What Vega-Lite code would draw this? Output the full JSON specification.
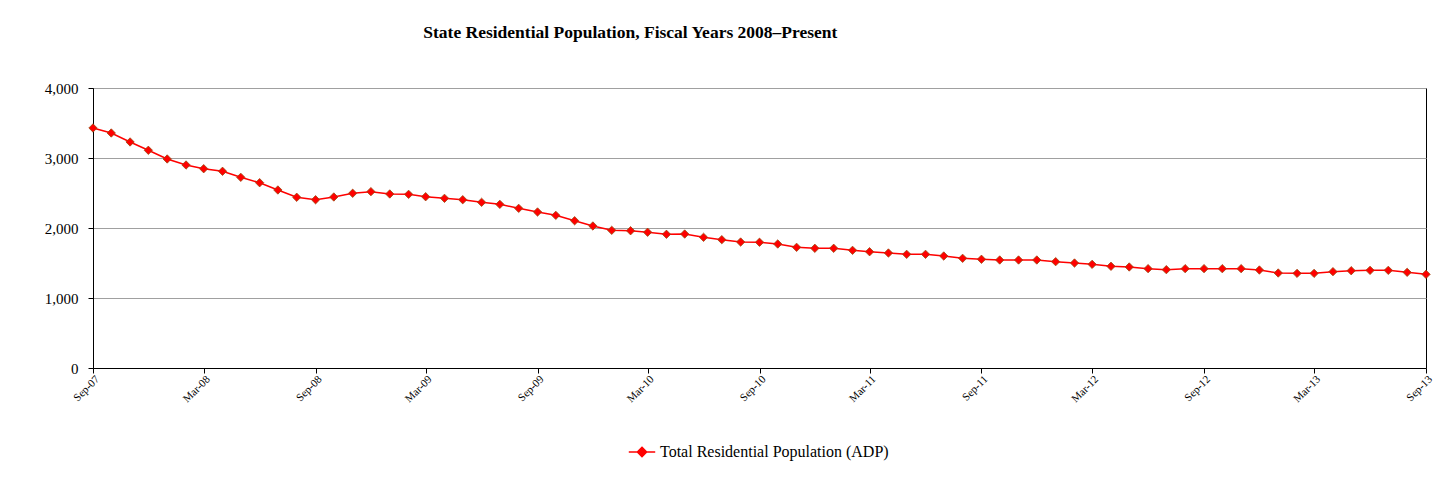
{
  "$schema": "https://vega.github.io/schema/vega-lite/v6.json",
  "width": 1333,
  "height": 280,
  "padding": {"left": 93, "top": 88, "right": 25, "bottom": 116},
  "autosize": {"type": "none"},
  "background": "white",
  "title": {
    "text": "State Residential Population, Fiscal Years 2008–Present",
    "font": "Liberation Serif",
    "fontSize": 17.5,
    "fontWeight": "bold",
    "color": "black",
    "anchor": "start",
    "dx": 379,
    "offset": 40
  },
  "config": {
    "view": {"stroke": "black", "strokeWidth": 1},
    "font": "Liberation Serif"
  },
  "data": {
    "values": [
      {"month": "2007-09-01", "adp": 3429},
      {"month": "2007-10-01", "adp": 3357},
      {"month": "2007-11-01", "adp": 3229},
      {"month": "2007-12-01", "adp": 3110},
      {"month": "2008-01-01", "adp": 2986},
      {"month": "2008-02-01", "adp": 2900},
      {"month": "2008-03-01", "adp": 2847},
      {"month": "2008-04-01", "adp": 2810},
      {"month": "2008-05-01", "adp": 2724},
      {"month": "2008-06-01", "adp": 2647},
      {"month": "2008-07-01", "adp": 2543},
      {"month": "2008-08-01", "adp": 2439},
      {"month": "2008-09-01", "adp": 2404},
      {"month": "2008-10-01", "adp": 2443},
      {"month": "2008-11-01", "adp": 2496},
      {"month": "2008-12-01", "adp": 2519},
      {"month": "2009-01-01", "adp": 2486},
      {"month": "2009-02-01", "adp": 2481},
      {"month": "2009-03-01", "adp": 2447},
      {"month": "2009-04-01", "adp": 2424},
      {"month": "2009-05-01", "adp": 2404},
      {"month": "2009-06-01", "adp": 2367},
      {"month": "2009-07-01", "adp": 2338},
      {"month": "2009-08-01", "adp": 2281},
      {"month": "2009-09-01", "adp": 2229},
      {"month": "2009-10-01", "adp": 2181},
      {"month": "2009-11-01", "adp": 2104},
      {"month": "2009-12-01", "adp": 2029},
      {"month": "2010-01-01", "adp": 1967},
      {"month": "2010-02-01", "adp": 1961},
      {"month": "2010-03-01", "adp": 1939},
      {"month": "2010-04-01", "adp": 1910},
      {"month": "2010-05-01", "adp": 1914},
      {"month": "2010-06-01", "adp": 1867},
      {"month": "2010-07-01", "adp": 1833},
      {"month": "2010-08-01", "adp": 1800},
      {"month": "2010-09-01", "adp": 1796},
      {"month": "2010-10-01", "adp": 1771},
      {"month": "2010-11-01", "adp": 1724},
      {"month": "2010-12-01", "adp": 1710},
      {"month": "2011-01-01", "adp": 1710},
      {"month": "2011-02-01", "adp": 1681},
      {"month": "2011-03-01", "adp": 1661},
      {"month": "2011-04-01", "adp": 1643},
      {"month": "2011-05-01", "adp": 1624},
      {"month": "2011-06-01", "adp": 1624},
      {"month": "2011-07-01", "adp": 1600},
      {"month": "2011-08-01", "adp": 1567},
      {"month": "2011-09-01", "adp": 1553},
      {"month": "2011-10-01", "adp": 1543},
      {"month": "2011-11-01", "adp": 1543},
      {"month": "2011-12-01", "adp": 1543},
      {"month": "2012-01-01", "adp": 1519},
      {"month": "2012-02-01", "adp": 1500},
      {"month": "2012-03-01", "adp": 1481},
      {"month": "2012-04-01", "adp": 1453},
      {"month": "2012-05-01", "adp": 1443},
      {"month": "2012-06-01", "adp": 1419},
      {"month": "2012-07-01", "adp": 1405},
      {"month": "2012-08-01", "adp": 1419},
      {"month": "2012-09-01", "adp": 1419},
      {"month": "2012-10-01", "adp": 1419},
      {"month": "2012-11-01", "adp": 1419},
      {"month": "2012-12-01", "adp": 1400},
      {"month": "2013-01-01", "adp": 1357},
      {"month": "2013-02-01", "adp": 1352},
      {"month": "2013-03-01", "adp": 1352},
      {"month": "2013-04-01", "adp": 1376},
      {"month": "2013-05-01", "adp": 1390},
      {"month": "2013-06-01", "adp": 1395},
      {"month": "2013-07-01", "adp": 1395},
      {"month": "2013-08-01", "adp": 1367},
      {"month": "2013-09-01", "adp": 1338}
    ]
  },
  "encoding": {
    "x": {
      "field": "month",
      "type": "temporal",
      "scale": {"type": "utc", "domain": ["2007-09-01", "2013-09-01"], "nice": false},
      "axis": {
        "title": null,
        "labelExpr": "utcFormat(datum.value, '%b-%y')",
        "values": ["2007-09-01", "2008-03-01", "2008-09-01", "2009-03-01", "2009-09-01", "2010-03-01", "2010-09-01", "2011-03-01", "2011-09-01", "2012-03-01", "2012-09-01", "2013-03-01", "2013-09-01"],
        "grid": false,
        "labelAngle": -45,
        "labelAlign": "right",
        "labelBaseline": "top",
        "labelFont": "Liberation Serif",
        "labelFontSize": 11,
        "labelColor": "black",
        "labelPadding": 0,
        "domainColor": "black",
        "tickColor": "black",
        "tickSize": 5,
        "labelFlush": false,
        "labelOverlap": false
      }
    },
    "y": {
      "field": "adp",
      "type": "quantitative",
      "scale": {"domain": [0, 4000], "nice": false},
      "axis": {
        "title": null,
        "values": [0, 1000, 2000, 3000, 4000],
        "format": ",d",
        "labelFont": "Liberation Serif",
        "labelFontSize": 15,
        "labelColor": "black",
        "labelPadding": 10,
        "domainColor": "black",
        "tickColor": "black",
        "tickSize": 5,
        "gridColor": "#a0a0a0",
        "gridWidth": 1
      }
    },
    "color": {
      "datum": "Total Residential Population (ADP)",
      "type": "nominal",
      "scale": {"range": ["#ff0000"]},
      "legend": {
        "title": null,
        "orient": "none",
        "legendX": 535,
        "legendY": 350,
        "labelFont": "Liberation Serif",
        "labelFontSize": 16,
        "labelColor": "black",
        "labelLimit": 0,
        "symbolType": "M-1,0L1,0M0,-0.35L0.35,0L0,0.35L-0.35,0Z",
        "symbolSize": 700,
        "symbolStrokeWidth": 1.5,
        "symbolFillColor": "#ff0000",
        "symbolStrokeColor": "#ff0000",
        "labelOffset": 4
      }
    }
  },
  "layer": [
    {
      "mark": {"type": "line", "color": "#ff0000", "strokeWidth": 1.5}
    },
    {
      "mark": {"type": "point", "shape": "diamond", "filled": true, "fill": "#ff0000", "stroke": "#9a4a10", "strokeWidth": 0.8, "size": 70, "opacity": 1}
    }
  ]
}
